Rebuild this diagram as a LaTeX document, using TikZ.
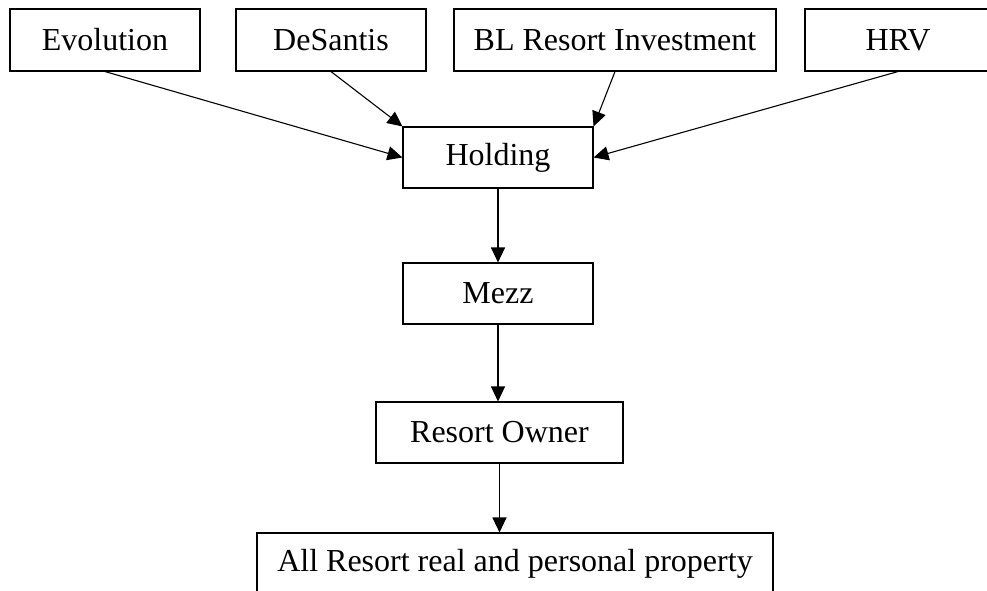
\documentclass[tikz,border=0pt]{standalone}
\usepackage{fontspec}
\setmainfont{Liberation Serif}
\usetikzlibrary{arrows.meta}
\begin{document}
\begin{tikzpicture}[x=1pt,y=-1pt,
  box/.style={draw=black,line width=1.1pt,minimum height=62pt,inner sep=0pt,
    font=\fontsize{32}{36}\selectfont,text=black},
  link/.style={draw=black,line width=1.1pt,-{Triangle[length=15pt,width=14pt]}}]
\useasboundingbox (0,0) rectangle (987,590);
\clip (0,0) rectangle (987,590);
\fill[white] (0,0) rectangle (987,590);
\node[box,minimum width=190pt] (evo) at (105,40) {Evolution};
\node[box,minimum width=190pt] (des) at (331,40) {DeSantis};
\node[box,minimum width=322pt] (bl) at (615,40) {BL Resort Investment};
\node[box,minimum width=186pt] (hrv) at (898,40) {HRV};
\node[box,minimum width=190pt,minimum height=61pt] (hold) at (498,157.5) {Holding};
\node[box,minimum width=190pt,minimum height=61pt] (mezz) at (498,293.5) {Mezz};
\node[box,minimum width=247pt,minimum height=61pt] (ro) at (499.5,432.5) {Resort Owner};
\node[box,minimum width=516pt] (all) at (515,564) {All Resort real and personal property};
\coordinate (desend) at (hold.north west);
\coordinate (blend) at (hold.north east);
\draw[link] (evo.south) -- (hold.west);
\draw[link] (des.south) -- (desend);
\draw[link] (bl.south) -- (blend);
\draw[link] (hrv.south) -- (hold.east);
\draw[link] (hold.south) -- (mezz.north);
\draw[link] (mezz.south) -- (mezz.south |- ro.north);
\draw[link] (ro.south) -- (ro.south |- all.north);
\end{tikzpicture}
\end{document}
